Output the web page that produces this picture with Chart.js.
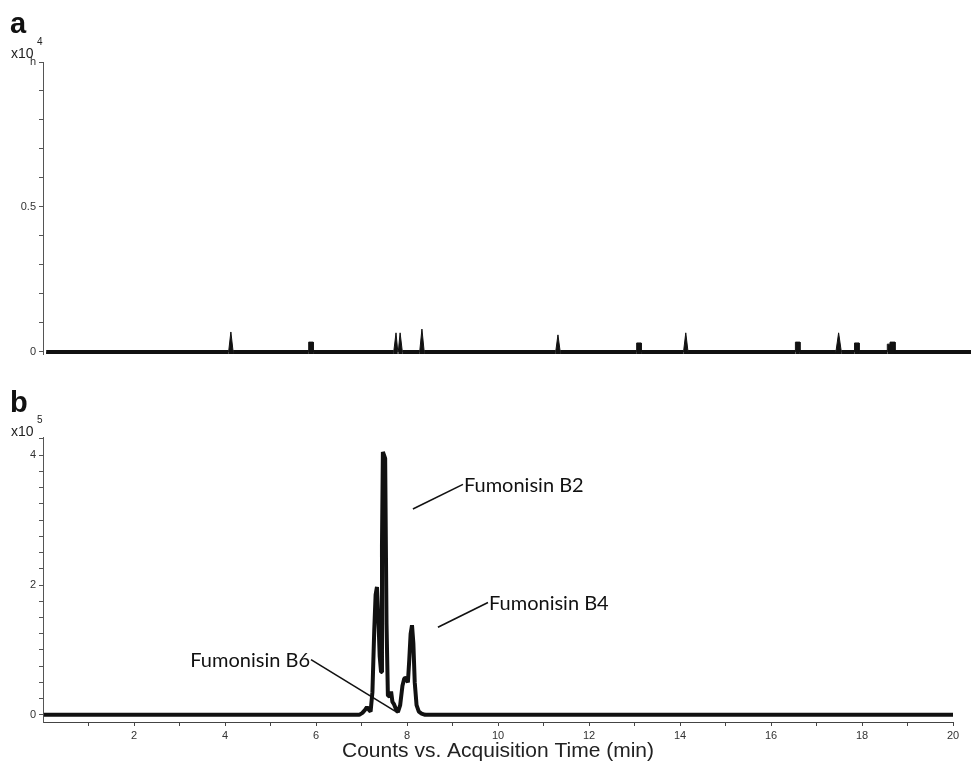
<!DOCTYPE html>
<html>
<head>
<meta charset="utf-8">
<script src="https://cdn.jsdelivr.net/npm/chart.js@4.4.1/dist/chart.umd.min.js"></script>
<style>
html, body { margin: 0; padding: 0; background: #fff; }
body { width: 971px; height: 762px; position: relative; overflow: hidden; }
canvas { position: absolute; left: 0; }
#chartA { top: 0; }
#chartB { top: 370px; }
</style>
</head>
<body>
<canvas id="chartA" width="971" height="370"></canvas>
<canvas id="chartB" width="971" height="392"></canvas>
<script>
// panel a : counts x10^4 vs time (min)
const timeA = [0.07,
  4.08, 4.13, 4.18,
  5.84, 5.84, 5.94, 5.94,
  7.71, 7.76, 7.80,
  7.81, 7.85, 7.90,
  8.28, 8.33, 8.38,
  11.27, 11.32, 11.37,
  13.05, 13.05, 13.15, 13.15,
  14.08, 14.13, 14.18,
  16.54, 16.54, 16.64, 16.64,
  17.43, 17.49, 17.55,
  17.84, 17.84, 17.94, 17.94,
  18.56, 18.56, 18.62, 18.62, 18.73, 18.73,
  20.4];
const countsA = [0,
  0, 0.069, 0,
  0, 0.034, 0.034, 0,
  0, 0.066, 0,
  0, 0.066, 0,
  0, 0.079, 0,
  0, 0.059, 0,
  0, 0.031, 0.031, 0,
  0, 0.066, 0,
  0, 0.034, 0.034, 0,
  0, 0.066, 0,
  0, 0.031, 0.031, 0,
  0, 0.027, 0.027, 0.034, 0.034, 0,
  0];
const yTicksA = [0, 0.1, 0.2, 0.3, 0.4, 0.5, 0.6, 0.7, 0.8, 0.9, 1];
const yTickTextA = ['0', '', '', '', '', '0.5', '', '', '', '', 'h'];

// panel b : counts x10^5 vs time (min)
const timeB = [0.02, 6.95, 7.02, 7.08, 7.12, 7.16, 7.20, 7.24, 7.28, 7.31, 7.34, 7.37, 7.40, 7.43,
  7.45, 7.47, 7.52, 7.55, 7.58, 7.62, 7.65, 7.68, 7.71, 7.75, 7.80, 7.85, 7.90, 7.94, 7.98, 8.02,
  8.05, 8.08, 8.11, 8.14, 8.17, 8.21, 8.26, 8.32, 8.40, 20];
const countsB = [0, 0, 0.03, 0.08, 0.12, 0.08, 0.05, 0.35, 1.3, 1.85, 1.97, 1.5, 0.9, 0.66,
  2.6, 4.05, 3.95, 1.4, 0.3, 0.28, 0.36, 0.2, 0.17, 0.1, 0.04, 0.15, 0.45, 0.56, 0.57, 0.5,
  0.85, 1.25, 1.38, 1.1, 0.5, 0.15, 0.05, 0.02, 0, 0];
const xTicksB = [1, 2, 3, 4, 5, 6, 7, 8, 9, 10, 11, 12, 13, 14, 15, 16, 17, 18, 19, 20];
const xTickTextB = ['', '2', '', '4', '', '6', '', '8', '', '10', '', '12', '', '14', '', '16', '', '18', '', '20'];
const yTicksB = [0, 0.25, 0.5, 0.75, 1, 1.25, 1.5, 1.75, 2, 2.25, 2.5, 2.75, 3, 3.25, 3.5, 3.75, 4, 4.25];
const yTickTextB = ['0', '', '', '', '', '', '', '', '2', '', '', '', '', '', '', '', '4', ''];

// peak labels: text end of the leader line, then the peak end
const peakNames = ['Fumonisin B2', 'Fumonisin B4', 'Fumonisin B6'];
const noteTime = [9.23, 9.78, 5.89];
const noteLevel = [3.55, 1.73, 0.85];
const peakTime = [8.13, 8.68, 7.80];
const peakLevel = [3.17, 1.35, 0.03];
const noteAlign = ['left', 'left', 'right'];

const sans = '"Liberation Sans", Arial, sans-serif';

function points(t, c) {
    return t.map((v, i) => ({x: v, y: c[i]}));
}

const panelText = {
    id: 'panelText',
    afterDraw(chart, args, opts) {
        const ctx = chart.ctx;
        ctx.save();
        ctx.fillStyle = '#111';
        ctx.textAlign = 'left';
        ctx.textBaseline = 'alphabetic';
        ctx.font = 'bold 29px ' + sans;
        ctx.fillText(opts.letter, 10, opts.letterY);
        ctx.fillStyle = '#222';
        ctx.font = '14px ' + sans;
        ctx.fillText('x10', 11, opts.expY);
        ctx.font = '10px ' + sans;
        ctx.fillText(opts.power, 37, opts.expY - 13);
        ctx.restore();
    }
};

const peakNotes = {
    id: 'peakNotes',
    afterDatasetsDraw(chart) {
        const xs = chart.scales.x, ys = chart.scales.y, ctx = chart.ctx;
        ctx.save();
        ctx.strokeStyle = '#111';
        ctx.lineWidth = 1.6;
        ctx.fillStyle = '#111';
        ctx.font = '20px Lato, "Open Sans", sans-serif';
        ctx.textBaseline = 'middle';
        peakNames.forEach((name, i) => {
            const x0 = xs.getPixelForValue(noteTime[i]), y0 = ys.getPixelForValue(noteLevel[i]);
            const x1 = xs.getPixelForValue(peakTime[i]), y1 = ys.getPixelForValue(peakLevel[i]);
            ctx.beginPath();
            ctx.moveTo(x0, y0);
            ctx.lineTo(x1, y1);
            ctx.stroke();
            ctx.textAlign = noteAlign[i];
            ctx.fillText(name, noteAlign[i] == 'left' ? x0 + 1 : x0 - 1, y0 + 1);
        });
        ctx.restore();
    }
};

function yAxis(min, max, ticks, text) {
    return {
        type: 'linear', position: 'left', min: min, max: max,
        afterBuildTicks: s => { s.ticks = ticks.map(v => ({value: v})); },
        afterFit: s => { s.width = 43; },
        ticks: {
            callback: (v, i) => text[i],
            autoSkip: false, padding: 3, color: '#333',
            font: {family: sans, size: 11}
        },
        grid: {drawOnChartArea: false, tickLength: 4, color: '#555'},
        border: {color: '#555', width: 1}
    };
}

new Chart(document.getElementById('chartA'), {
    type: 'line',
    data: {
        datasets: [{
            data: points(timeA, countsA),
            borderColor: '#111', backgroundColor: '#111', borderWidth: 4,
            fill: 'start', pointRadius: 0, tension: 0, clip: false,
            // thick baseline, thin outline on the filled peaks
            segment: {
                borderWidth: c => (c.p0.parsed.y == 0 && c.p1.parsed.y == 0) ? 4 : 1
            }
        }]
    },
    options: {
        responsive: false, animation: false, devicePixelRatio: 1,
        layout: {padding: {top: 62, bottom: 16, left: 0, right: 0}},
        plugins: {
            legend: {display: false}, tooltip: {enabled: false},
            panelText: {letter: 'a', letterY: 33, expY: 58, power: '4'}
        },
        scales: {
            x: {type: 'linear', min: 0, max: 20.4, display: false},
            // min a hair below 0 so the peak fill reaches the lower edge of the thick baseline
            y: yAxis(-0.007, 1, yTicksA, yTickTextA)
        }
    },
    plugins: [panelText]
});

new Chart(document.getElementById('chartB'), {
    type: 'line',
    data: {
        datasets: [{
            data: points(timeB, countsB),
            borderColor: '#111', borderWidth: 4, borderJoinStyle: 'bevel',
            pointRadius: 0, tension: 0, fill: false, clip: false
        }]
    },
    options: {
        responsive: false, animation: false, devicePixelRatio: 1,
        layout: {padding: {top: 67, bottom: 0, left: 0, right: 18}},
        plugins: {
            legend: {display: false}, tooltip: {enabled: false},
            panelText: {letter: 'b', letterY: 42, expY: 66, power: '5'}
        },
        scales: {
            x: {
                type: 'linear', position: 'bottom', min: 0, max: 20,
                afterBuildTicks: s => { s.ticks = xTicksB.map(v => ({value: v})); },
                afterFit: s => { s.height = 40; },
                ticks: {
                    callback: (v, i) => xTickTextB[i],
                    autoSkip: false, maxRotation: 0, padding: 3, color: '#333',
                    font: {family: sans, size: 11}
                },
                grid: {drawOnChartArea: false, tickLength: 4, color: '#444'},
                border: {color: '#444', width: 1},
                title: {
                    display: true, text: 'Counts vs. Acquisition Time (min)',
                    color: '#222', font: {family: sans, size: 21},
                    padding: {top: 0, bottom: -2}
                }
            },
            y: yAxis(-0.11, 4.28, yTicksB, yTickTextB)
        }
    },
    plugins: [panelText, peakNotes]
});
</script>
</body>
</html>
